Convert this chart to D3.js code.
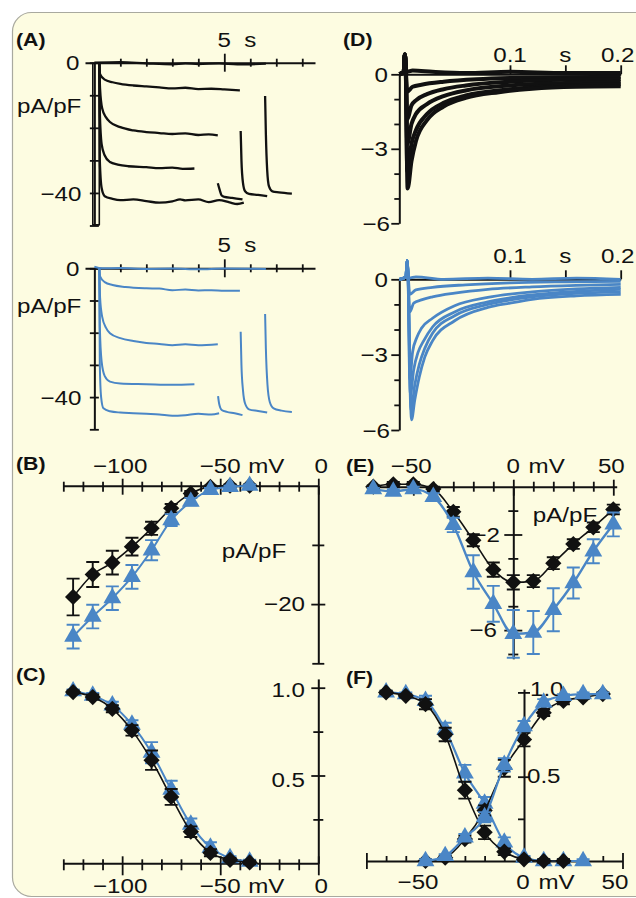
<!DOCTYPE html>
<meta charset="utf-8">
<head>
<style>
  body { margin: 0; background: #fff; }
  svg { display: block; font-family: "Liberation Sans", Arial, sans-serif; }
</style>
</head>
<body>
<div id="chart"></div>
<script src="https://d3js.org/d3.v7.min.js"></script>
<script>
// ---------- data ----------
// (A) current traces, time in s, current in pA/pF
var aCtrlBase = [[0,0],[1,0.2],[2,-0.2],[3,-0.5],[3.5,-0.2],[4,-0.4],[4.8,-0.2],[5.5,-0.5],[6.6,-0.3]];
var aCtrlArtifact = [[-0.06,0],[-0.06,-49.8],[0.19,-49.8],[0.19,-2]];
var aCtrlSteps = [
  [[0.19,0],[0.22,-3.5],[0.4,-5.2],[0.7,-6.0],[1.0,-6.5],[1.5,-7.0],[2.0,-7.3],[2.5,-7.6],[3.0,-7.9],[3.5,-7.7],[4.0,-8.1],[4.5,-8.0],[5.0,-8.2],[5.6,-8.5]],
  [[0.19,0],[0.22,-8],[0.3,-14],[0.45,-16.8],[0.6,-18.2],[1.0,-19.8],[1.5,-20.8],[2.0,-21.3],[2.5,-21.6],[3.0,-21.9],[3.5,-21.7],[4.0,-22.2],[4.4,-22.0],[4.75,-22.3]],
  [[0.19,0],[0.21,-15],[0.28,-25],[0.4,-28.5],[0.6,-30.5],[0.9,-31.3],[1.3,-31.8],[2.0,-32.1],[2.5,-32.4],[3.0,-32.2],[3.4,-32.6],[3.85,-32.5]],
  [[0.19,0],[0.21,-30],[0.28,-38.5],[0.4,-41],[0.7,-41.8],[1.0,-42.2],[1.5,-42.0],[2.0,-42.5],[2.5,-43.0],[3.0,-42.6],[3.3,-42.0],[3.5,-42.3],[4.0,-42.0],[4.4,-42.8],[4.8,-42.2],[5.2,-42.9],[5.5,-43.4],[5.75,-43.0]]
];
var aCtrlTails = [
  [[4.75,-37],[4.82,-39],[4.9,-40.8],[5.0,-41.2],[5.3,-41.5],[5.7,-42.0]],
  [[5.63,-21],[5.66,-30],[5.72,-37],[5.8,-39.5],[5.95,-40.3],[6.3,-40.6],[6.65,-41.0]],
  [[6.57,-10.2],[6.6,-22],[6.65,-33],[6.72,-38],[6.85,-39.5],[7.1,-39.8],[7.6,-40.2]]
];
var aMutBase = [[0,0.5],[0.3,0],[1,0.1],[2,-0.2],[3,-0.1],[4,-0.3],[5,-0.1],[6.6,-0.2]];
var aMutSteps = [
  [[0.19,0],[0.22,-2.5],[0.4,-4.3],[0.7,-5.2],[1.2,-5.8],[2.0,-6.2],[2.5,-6.3],[3.0,-6.8],[3.5,-6.6],[4.0,-6.9],[4.5,-6.8],[5.0,-7.0],[5.6,-7.0]],
  [[0.19,0],[0.22,-9],[0.3,-15],[0.45,-18.5],[0.6,-20.2],[1.0,-21.7],[1.5,-22.6],[2.0,-23.2],[2.5,-23.5],[3.0,-23.9],[3.5,-23.6],[4.0,-23.9],[4.75,-23.6]],
  [[0.19,0],[0.21,-18],[0.28,-29],[0.4,-33.5],[0.6,-35.2],[1.0,-35.8],[2.0,-36.0],[3.0,-36.2],[3.85,-36.0]],
  [[0.19,0],[0.21,-30],[0.26,-40],[0.35,-43.5],[0.6,-44.4],[1.0,-44.8],[1.5,-45.0],[2.0,-45.2],[2.5,-45.4],[3.0,-45.8],[3.5,-45.6],[4.0,-45.2],[4.5,-45.4],[4.8,-45.0]]
];
var aMutTails = [
  [[4.76,-39.7],[4.8,-42],[4.9,-44],[5.1,-44.6],[5.4,-45.0],[5.7,-45.6]],
  [[5.63,-19.7],[5.66,-30],[5.72,-38],[5.8,-42],[5.95,-43.8],[6.3,-44.3],[6.65,-44.8]],
  [[6.57,-14.2],[6.6,-25],[6.66,-36],[6.75,-41.5],[6.9,-43.5],[7.2,-44.2],[7.6,-44.6]]
];
var aXTicks = [1,2,3,4,5,6,7,8];
var aYTicks = [0,-10,-20,-30,-40,-50];

// (D) current traces, time in s, current in pA/pF
var dCtrlOnset = [[0,0],[0.004,0.1],[0.005,0.8],[0.0058,0.3]];
var dCtrl = [
  [[0.007,0.1],[0.012,0.15],[0.03,0.1],[0.06,0.05],[0.1,0.1],[0.15,0.05],[0.2,0.05]],
  [[0.007,-0.7],[0.012,-0.5],[0.02,-0.42],[0.04,-0.3],[0.07,-0.2],[0.1,-0.15],[0.15,-0.12],[0.2,-0.1]],
  [[0.0072,-1.8],[0.011,-1.25],[0.015,-1.05],[0.025,-0.8],[0.04,-0.6],[0.06,-0.45],[0.1,-0.3],[0.15,-0.22],[0.2,-0.2]],
  [[0.0072,-2.8],[0.011,-2.0],[0.015,-1.6],[0.025,-1.2],[0.04,-0.88],[0.06,-0.65],[0.1,-0.45],[0.15,-0.35],[0.2,-0.3]],
  [[0.0072,-3.9],[0.011,-2.8],[0.015,-2.25],[0.025,-1.6],[0.04,-1.15],[0.06,-0.85],[0.1,-0.6],[0.15,-0.45],[0.2,-0.4]],
  [[0.0075,-4.6],[0.011,-3.5],[0.015,-2.7],[0.025,-1.85],[0.04,-1.3],[0.06,-0.95],[0.09,-0.72],[0.12,-0.58],[0.16,-0.5],[0.2,-0.48]]
];
var dMutOnset = [[0,0],[0.006,0.1],[0.007,0.75],[0.0078,0.3]];
var dMut = [
  [[0.009,0.05],[0.015,0.1],[0.04,0.0],[0.08,0.05],[0.12,0.0],[0.16,0.05],[0.2,0.0]],
  [[0.0095,-0.6],[0.015,-0.42],[0.03,-0.32],[0.06,-0.22],[0.1,-0.14],[0.15,-0.1],[0.2,-0.08]],
  [[0.0095,-1.3],[0.013,-0.95],[0.02,-0.82],[0.03,-0.7],[0.05,-0.55],[0.08,-0.4],[0.12,-0.3],[0.16,-0.24],[0.2,-0.2]],
  [[0.0095,-4.0],[0.012,-2.9],[0.016,-2.3],[0.02,-1.95],[0.03,-1.55],[0.05,-1.05],[0.08,-0.72],[0.12,-0.5],[0.16,-0.38],[0.2,-0.32]],
  [[0.01,-4.6],[0.013,-3.6],[0.017,-2.9],[0.022,-2.45],[0.03,-1.9],[0.05,-1.3],[0.08,-0.9],[0.12,-0.62],[0.16,-0.48],[0.2,-0.4]],
  [[0.0105,-5.2],[0.014,-4.2],[0.018,-3.4],[0.023,-2.75],[0.03,-2.15],[0.05,-1.45],[0.08,-1.0],[0.12,-0.7],[0.16,-0.56],[0.2,-0.5]],
  [[0.011,-5.6],[0.014,-4.8],[0.018,-3.9],[0.023,-3.1],[0.03,-2.45],[0.05,-1.65],[0.08,-1.12],[0.1,-0.95],[0.12,-0.8],[0.16,-0.66],[0.2,-0.6]]
];
var dXTicks = [0.1,0.15,0.2];
var dYTicks = [0,-1,-2,-3,-4,-5,-6];

// (B) current-voltage, (C) steady-state availability
var bcVolts = [-125,-115,-105,-95,-85,-75,-65,-55,-45,-35];
var bCtrl = [-18.8,-15.0,-13.0,-10.3,-7.2,-3.8,-1.3,-0.2,0,0];
var bCtrlErr = [3.1,2.1,2.0,1.5,1.1,0.7,0.4,0.2,0.2,0.2];
var bMut = [-25.5,-22.1,-19.0,-15.4,-10.9,-5.8,-2.7,-0.7,-0.2,0];
var bMutErr = [2.0,2.0,2.0,2.0,1.7,1.0,0.6,0.3,0.2,0.2];
var cCtrl = [0.975,0.947,0.88,0.757,0.587,0.378,0.18,0.06,0.02,0.005];
var cCtrlErr = [0.01,0.015,0.02,0.03,0.055,0.045,0.03,0.02,0.01,0.01];
var cMut = [0.98,0.955,0.9,0.79,0.63,0.42,0.22,0.09,0.03,0.01];
var cMutErr = [0.01,0.015,0.02,0.025,0.06,0.05,0.035,0.03,0.01,0.01];
var bcXTicks = [-130,-120,-110,-100,-90,-80,-70,-60,-50,-40,-30,-20,-10,0];

// (E) current-voltage, (F) activation / inactivation
var eVolts = [-70,-60,-50,-40,-30,-20,-10,0,10,20,30,40,50];
var eCtrl = [0,0.1,0.1,-0.1,-1.05,-2.24,-3.47,-4.0,-3.95,-3.2,-2.4,-1.7,-0.95];
var eCtrlErr = [0.05,0.1,0.1,0.1,0.2,0.25,0.3,0.3,0.25,0.25,0.2,0.2,0.2];
var eMut = [-0.1,-0.2,-0.1,-0.42,-1.6,-3.57,-4.9,-6.16,-6.1,-5.15,-4.03,-2.7,-1.58];
var eMutErr = [0.05,0.1,0.1,0.15,0.3,0.7,0.75,1.0,0.9,0.9,0.65,0.5,0.5];
var eXTicks = [-70,-60,-50,-40,-30,-20,-10,0,10,20,30,40,50];
var eYTicks = [0,-1,-2,-3,-4,-5,-6,-7];

var fInactCtrlV = [-70,-60,-50,-40,-30,-20,-10,0,10,20];
var fInactCtrl = [1.0,0.98,0.93,0.75,0.42,0.17,0.055,0.01,0,0];
var fInactCtrlErr = [0.01,0.01,0.03,0.04,0.05,0.04,0.02,0.01,0.01,0.01];
var fInactMutV = [-70,-60,-50,-40,-30,-20,-10,0,10,20,30];
var fInactMut = [1.0,0.99,0.95,0.78,0.52,0.34,0.11,0.02,0,0,0];
var fInactMutErr = [0.01,0.01,0.03,0.04,0.05,0.04,0.03,0.01,0.01,0.01,0.01];
var fActV = [-50,-40,-30,-20,-10,0,10,20,30,40];
var fActCtrl = [0.0,0.02,0.13,0.3,0.55,0.72,0.88,0.95,0.97,0.99];
var fActCtrlErr = [0.01,0.01,0.02,0.03,0.05,0.04,0.02,0.02,0.01,0.01];
var fActMut = [0.0,0.03,0.14,0.26,0.57,0.8,0.94,0.98,0.99,0.99];
var fActMutErr = [0.01,0.01,0.02,0.03,0.04,0.03,0.02,0.01,0.01,0.01];
var fXTicks = [-80,-70,-60,-50,-40,-30,-20,-10,0,10,20,30,40,50];
var fYTicks = [0,0.25,0.5,0.75,1.0];

// ---------- drawing ----------
var ink = "#111", blue = "#4a86c6";

var svg = d3.select("#chart").append("svg")
    .attr("width", 636)
    .attr("height", 898);

svg.append("rect")
    .attr("x", 12.5).attr("y", 12.5)
    .attr("width", 660).attr("height", 884)
    .attr("rx", 19)
    .attr("fill", "#fdfce1")
    .attr("stroke", "#a9a99f")
    .attr("stroke-width", 1.2);

function hAxis(xs, y, vals, len) {
  var g = svg.append("g").attr("transform", "translate(0," + y + ")")
      .call(d3.axisBottom(xs).tickValues(vals).tickSize(0).tickSizeOuter(0).tickFormat(""));
  g.select(".domain").attr("stroke", ink).attr("stroke-width", 2);
  g.selectAll(".tick line")
      .attr("stroke", ink).attr("stroke-width", 1.8)
      .attr("y1", function(d) { return -len(d)[0]; })
      .attr("y2", function(d) { return len(d)[1]; });
}

function vAxis(ys, x, vals, len) {
  var g = svg.append("g").attr("transform", "translate(" + x + ",0)")
      .call(d3.axisLeft(ys).tickValues(vals).tickSize(0).tickSizeOuter(0).tickFormat(""));
  g.select(".domain").attr("stroke", ink).attr("stroke-width", 2);
  g.selectAll(".tick line")
      .attr("stroke", ink).attr("stroke-width", 1.8)
      .attr("x1", function(d) { return -len(d)[0]; })
      .attr("x2", function(d) { return len(d)[1]; });
}

function txt(x, y, s, anchor, size, bold) {
  svg.append("text")
      .attr("transform", "translate(" + x + "," + y + ") scale(1.15,1)")
      .attr("text-anchor", anchor || "middle")
      .attr("font-size", size || 21)
      .attr("font-weight", bold ? "bold" : null)
      .attr("fill", ink)
      .text(s);
}

function drawTraces(list, onset, xs, ys, color, w, curve) {
  var line = d3.line()
      .x(function(d) { return xs(d[0]); })
      .y(function(d) { return ys(d[1]); })
      .curve(curve || d3.curveMonotoneX);
  svg.append("g").selectAll("path")
      .data(list)
    .join("path")
      .attr("d", function(d) { return line(onset.concat(d)); })
      .attr("fill", "none")
      .attr("stroke", color)
      .attr("stroke-width", w)
      .attr("stroke-linejoin", "round");
}

function drawSeries(xs, ys, V, M, E, color, shape, lw) {
  var pts = V.map(function(v, i) { return {v: v, m: M[i], e: E[i]}; });
  var g = svg.append("g");
  g.append("path").datum(pts)
      .attr("d", d3.line()
        .x(function(d) { return xs(d.v); })
        .y(function(d) { return ys(d.m); })
        .curve(d3.curveMonotoneX))
      .attr("fill", "none").attr("stroke", color).attr("stroke-width", lw);
  g.selectAll(".err").data(pts).join("path")
      .attr("class", "err")
      .attr("d", function(d) {
        var x = xs(d.v), a = ys(d.m + d.e), b = ys(d.m - d.e);
        return "M" + x + "," + a + "V" + b + "M" + (x - 6.5) + "," + a + "h13M" + (x - 6.5) + "," + b + "h13";
      })
      .attr("fill", "none").attr("stroke", color).attr("stroke-width", 1.9);
  var sym = shape === "diamond" ? d3.symbol(d3.symbolSquare, 132) : d3.symbol(d3.symbolTriangle, 138);
  g.selectAll(".mk").data(pts).join("path")
      .attr("class", "mk")
      .attr("transform", function(d) {
        return "translate(" + xs(d.v) + "," + ys(d.m) + ")" + (shape === "diamond" ? " rotate(45)" : "");
      })
      .attr("d", sym)
      .attr("fill", color);
}

// ----- (A) -----
var xA = d3.scaleLinear().domain([-0.36, 8.49]).range([85, 315]);
var yA1 = d3.scaleLinear().domain([0, -50]).range([62.7, 225.5]);
var yA2 = d3.scaleLinear().domain([0, -50]).range([268.3, 429.3]);

[yA1, yA2].forEach(function(ys, k) {
  hAxis(xA, ys(0), aXTicks, function(d) { return d === 5 ? [9, 9] : [4, 4]; });
  vAxis(ys, xA(0), aYTicks, function(d) { return [4.5, 4.5]; });
  var top = ys(0) - (k === 0 ? 16 : 16.6);
  txt(xA(5), top, "5");
  txt(xA(6), top, "s");
  txt(xA(0) - 15, ys(0) + 7.5, "0", "end");
  txt(xA(0) - 13, ys(-40) + 7.8, "\u221240", "end");
  txt(xA(0) - 13, k === 0 ? 113 : 313, "pA/pF", "end");
});
txt(16, 46, "(A)", "start", 18.5, true);

drawTraces([aCtrlArtifact], [], xA, yA1, ink, 1.6, d3.curveLinear);
drawTraces([aCtrlBase].concat(aCtrlSteps, aCtrlTails), [], xA, yA1, ink, 2.3);
drawTraces([aMutBase].concat(aMutSteps, aMutTails), [], xA, yA2, blue, 2);

// ----- (D) -----
var xD = d3.scaleLinear().domain([0, 0.2]).range([399.3, 620.7]);
var yD1 = d3.scaleLinear().domain([0, -6]).range([74.3, 223.3]);
var yD2 = d3.scaleLinear().domain([0, -6]).range([279.3, 430]);

[yD1, yD2].forEach(function(ys, k) {
  hAxis(xD, ys(0), dXTicks, function() { return [9, 0]; });
  vAxis(ys, xD(0), dYTicks, function(d) { return d % 3 === 0 ? [8, 0] : [5, 0]; });
  var top = ys(0) - (k === 0 ? 12.6 : 16);
  txt(xD(0.1), top, "0.1");
  txt(xD(0.15), top, "s");
  txt(xD(0.2) - 3, top, "0.2");
  txt(388, ys(0) + 7.4, "0", "end");
  txt(388, ys(-3) + 7.4, "\u22123", "end");
  txt(390, ys(-6) + 8, "\u22126", "end");
});
txt(343, 46, "(D)", "start", 18.5, true);

drawTraces(dCtrl, dCtrlOnset, xD, yD1, ink, 4);
drawTraces(dMut, dMutOnset, xD, yD2, blue, 2.8);

// ----- (B) -----
var xB = d3.scaleLinear().domain([-130, 0]).range([63.3, 318.3]);
var yB = d3.scaleLinear().domain([0, -30]).range([485.7, 663.3]);
hAxis(xB, yB(0), bcXTicks, function(d) { return d % 50 === 0 ? [7, 9] : [4, 6]; });
vAxis(yB, xB(0), [-10, -20, -30], function(d) { return d === -20 ? [7, 7] : [6, 6]; });
txt(xB(-100) - 2, 473.3, "\u2212100");
txt(xB(-50), 473.3, "\u221250");
txt(xB(-26.5), 473.3, "mV");
txt(xB(0) + 3, 473.3, "0");
txt(305, yB(-20) + 7, "\u221220", "end");
txt(254, 558.3, "pA/pF");
txt(16, 470, "(B)", "start", 18.5, true);

drawSeries(xB, yB, bcVolts, bCtrl, bCtrlErr, ink, "diamond", 1.6);
drawSeries(xB, yB, bcVolts, bMut, bMutErr, blue, "triangle", 2);

// ----- (C) -----
var xC = d3.scaleLinear().domain([-130, 0]).range([63.3, 318.3]);
var yC = d3.scaleLinear().domain([0, 1.05]).range([863.3, 863.3 - 1.05 * 175.6]);
hAxis(xC, yC(0), bcXTicks, function(d) { return d % 50 === 0 ? [7, 12] : [4, 7]; });
vAxis(yC, xC(0), [0.25, 0.5, 0.75, 1.0], function(d) { return d === 0.5 || d === 1 ? [7, 7] : [5, 5]; });
txt(xC(-100) - 2, 893, "\u2212100");
txt(xC(-50), 893, "\u221250");
txt(xC(-26.5), 893, "mV");
txt(xC(0) + 3, 893, "0");
txt(305, yC(1) + 9.5, "1.0", "end");
txt(305, yC(0.5) + 11, "0.5", "end");
txt(16, 681, "(C)", "start", 18.5, true);

drawSeries(xC, yC, bcVolts, cMut, cMutErr, blue, "triangle", 2);
drawSeries(xC, yC, bcVolts, cCtrl, cCtrlErr, ink, "diamond", 1.6);

// ----- (E) -----
var xE = d3.scaleLinear().domain([-73.3, 51.7]).range([366.7, 616.7]);
var yE = d3.scaleLinear().domain([0, -7.2]).range([486.7, 486.7 + 7.2 * 23.9]);
hAxis(xE, yE(0), eXTicks, function(d) { return d % 50 === 0 ? [7, 9] : [5, 5]; });
vAxis(yE, xE(0), eYTicks.slice(1), function(d) { return d === -2 || d === -6 ? [9, 9] : [5, 5]; });
txt(xE(-50) - 2, 473.3, "\u221250");
txt(xE(0), 473.3, "0");
txt(xE(16.7), 473.3, "mV");
txt(xE(50) - 2, 473.3, "50");
txt(500, yE(-2) + 7.2, "\u22122", "end");
txt(497, yE(-6) + 6.7, "\u22126", "end");
txt(565, 521.7, "pA/pF");
txt(346, 471.7, "(E)", "start", 18.5, true);

drawSeries(xE, yE, eVolts, eCtrl, eCtrlErr, ink, "diamond", 1.6);
drawSeries(xE, yE, eVolts, eMut, eMutErr, blue, "triangle", 2.4);

// ----- (F) -----
var xF = d3.scaleLinear().domain([-80, 50]).range([366.4, 622.5]);
var yF = d3.scaleLinear().domain([0, 1.02]).range([861, 861 - 1.02 * 168.6]);
hAxis(xF, yF(0), fXTicks, function(d) { return d === -80 || d === 50 ? [8, 8] : [5, 1]; });
vAxis(yF, xF(0), fYTicks.slice(1), function(d) { return d === 0.5 || d === 1 ? [6, 6] : [6, 0]; });
txt(418, 889, "\u221250");
txt(523, 889, "0");
txt(xF(16.5), 889, "mV");
txt(615, 889, "50");
txt(530, yF(1) + 4, "1.0", "start");
txt(527, yF(0.5) + 6.6, "0.5", "start");
txt(346, 684, "(F)", "start", 18.5, true);

drawSeries(xF, yF, fInactMutV, fInactMut, fInactMutErr, blue, "triangle", 2.2);
drawSeries(xF, yF, fInactCtrlV, fInactCtrl, fInactCtrlErr, ink, "diamond", 1.6);
drawSeries(xF, yF, fActV, fActCtrl, fActCtrlErr, ink, "diamond", 1.6);
drawSeries(xF, yF, fActV, fActMut, fActMutErr, blue, "triangle", 2.2);
</script>
</body>
